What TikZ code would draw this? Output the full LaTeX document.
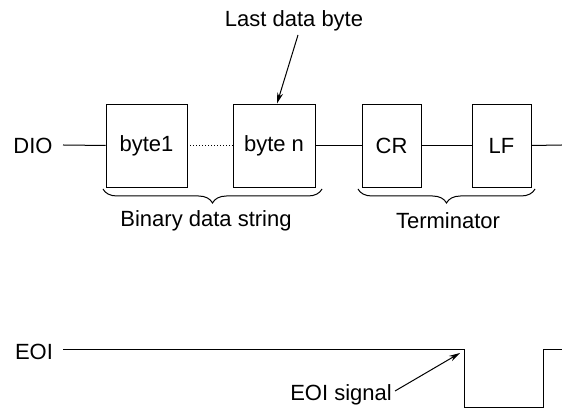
\documentclass[tikz,border=0pt]{standalone}
\usepackage{fontspec}
\setmainfont{Liberation Sans}
\usetikzlibrary{arrows.meta,decorations.pathreplacing,calc}
\begin{document}
\begin{tikzpicture}[x=1pt,y=1pt,
  box/.style={draw,line width=0.9pt,minimum height=83pt,inner sep=0pt,font=\fontsize{22}{24}\selectfont},
  lbl/.style={inner sep=0pt,font=\fontsize{22}{24}\selectfont},
  wire/.style={line width=1pt},
  brc/.style={line width=1pt,decorate,decoration={brace,mirror,amplitude=14pt}},
  arr/.style={line width=1pt,-{Stealth[length=11pt,width=6pt]}}]
\useasboundingbox (0,0) rectangle (562,411);
\node[lbl] (dio) at (33,265) {DIO};
\node[box,minimum width=81pt] (b1) at (146.5,265.5) {byte1};
\node[box,minimum width=82pt] (bn) at (274,265.5) {byte n};
\node[box,minimum width=59pt] (cr) at (391.5,265.5) {CR};
\node[box,minimum width=59pt] (lf) at (501.5,265.5) {LF};
\coordinate (dioS) at (63,266);
\coordinate (lfE) at (562,266);
\draw[wire] (dioS) -- (b1.west);
\draw[wire,dotted] (b1.east) -- (bn.west);
\draw[wire] (bn.east) -- (cr.west);
\draw[wire] (cr.east) -- (lf.west);
\draw[wire] (lf.east) -- (lfE);
\coordinate (br1a) at (103,222);
\coordinate (br1b) at (322,222);
\coordinate (br2a) at (358,222);
\coordinate (br2b) at (535,222);
\draw[brc] (br1a) -- (br1b);
\draw[brc] (br2a) -- (br2b);
\node[lbl] (bds) at (206,190) {Binary data string};
\node[lbl] (term) at (448,190) {Terminator};
\node[lbl] (ldb) at (294,390) {Last data byte};
\coordinate (ldbS) at (298,376);
\draw[arr] (ldbS) -- ($(bn.north)+(3,0)$);
\node[lbl] (eoi) at (34,59) {EOI};
\coordinate (e0) at (63,61);
\coordinate (e1) at (464,61);
\coordinate (e2) at (464,3);
\coordinate (e3) at (543,3);
\coordinate (e4) at (543,61);
\coordinate (e5) at (562,61);
\draw[wire] (e0) -- (e1) -- (e2) -- (e3) -- (e4) -- (e5);
\node[lbl,anchor=east] (sig) at (392,16) {EOI signal};
\coordinate (sigA) at (395,20);
\draw[arr] (sigA) -- ($(e1)+(-4,-3)$);
\end{tikzpicture}
\end{document}
